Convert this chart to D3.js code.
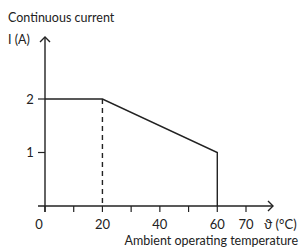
<!DOCTYPE html>
<html lang="en">
<head>
  <meta charset="UTF-8"/>
  <title>Derating curve</title>
  <script src="https://d3js.org/d3.v7.min.js"></script>
  <style>
    body { margin: 0; background: #fff; }
    text { font-family: Lato, "Open Sans", sans-serif; fill: #222; }
  </style>
</head>
<body>
<script>
  var w = 303;
  var h = 248;

  // derating curve (temperature °C, current A)
  var temps    = [0, 20, 60, 60];
  var currents = [2, 2, 1, 0];
  var xTicks      = [0, 10, 20, 30, 40, 50, 60, 70];
  var xTickLabels = [0, 20, 40, 60, 70];
  var yTicks      = [1, 2];

  var x = d3.scaleLinear().domain([0, 70]).range([45, 246]);
  var y = d3.scaleLinear().domain([0, 2]).range([206, 99]);

  var svg = d3.select("body")
              .append("svg")
              .attr("width", w)
              .attr("height", h);

  var stroke = "#222";

  // axes lines with arrows
  svg.append("line")
     .attr("x1", x(0) - 7).attr("x2", 273)
     .attr("y1", y(0)).attr("y2", y(0))
     .attr("stroke", stroke).attr("stroke-width", 1.4);
  svg.append("path")
     .attr("d", "M" + (273 - 5) + "," + (y(0) - 5) + "L273," + y(0) + "L" + (273 - 5) + "," + (y(0) + 5))
     .attr("fill", "none").attr("stroke", stroke).attr("stroke-width", 1.4);

  svg.append("line")
     .attr("x1", x(0)).attr("x2", x(0))
     .attr("y1", y(0) + 6).attr("y2", 37)
     .attr("stroke", stroke).attr("stroke-width", 1.4);
  svg.append("path")
     .attr("d", "M" + (x(0) - 5) + ",42L" + x(0) + ",37L" + (x(0) + 5) + ",42")
     .attr("fill", "none").attr("stroke", stroke).attr("stroke-width", 1.4);

  // x ticks
  svg.selectAll(".xt")
     .data(xTicks)
     .enter()
     .append("line")
     .attr("x1", function(d) { return x(d); })
     .attr("x2", function(d) { return x(d); })
     .attr("y1", y(0))
     .attr("y2", y(0) + 6)
     .attr("stroke", stroke).attr("stroke-width", 1.2);

  svg.selectAll(".xl")
     .data(xTickLabels)
     .enter()
     .append("text")
     .attr("x", function(d) { return d === 0 ? x(d) - 6 : x(d); })
     .attr("y", 229)
     .attr("text-anchor", "middle")
     .style("font-size", "13px")
     .text(function(d) { return d; });

  // y ticks
  svg.selectAll(".yt")
     .data(yTicks)
     .enter()
     .append("line")
     .attr("x1", x(0) - 7)
     .attr("x2", x(0))
     .attr("y1", function(d) { return y(d); })
     .attr("y2", function(d) { return y(d); })
     .attr("stroke", stroke).attr("stroke-width", 1.2);

  svg.selectAll(".yl")
     .data(yTicks)
     .enter()
     .append("text")
     .attr("x", 30)
     .attr("y", function(d) { return y(d) + 4.5; })
     .attr("text-anchor", "middle")
     .style("font-size", "13px")
     .text(function(d) { return d; });

  // dashed guide at 20 °C
  svg.append("line")
     .attr("x1", x(20)).attr("x2", x(20))
     .attr("y1", y(2)).attr("y2", y(0))
     .attr("stroke", stroke).attr("stroke-width", 1.4)
     .attr("stroke-dasharray", "5,4");

  // curve
  var line = d3.line()
               .x(function(d) { return x(d[0]); })
               .y(function(d) { return y(d[1]); });

  svg.append("path")
     .attr("d", line(d3.zip(temps, currents)))
     .attr("fill", "none")
     .attr("stroke", stroke)
     .attr("stroke-width", 1.4);

  // labels
  svg.append("text").attr("x", 8).attr("y", 22).style("font-size", "12.5px").text("Continuous current");
  svg.append("text").attr("x", 8).attr("y", 44).style("font-size", "12.5px").text("I (A)");
  svg.append("text").attr("x", 264).attr("y", 229).style("font-size", "13px").text("ϑ (°C)");
  svg.append("text").attr("x", 298).attr("y", 245).attr("text-anchor", "end").style("font-size", "12.5px").text("Ambient operating temperature");
</script>
</body>
</html>
